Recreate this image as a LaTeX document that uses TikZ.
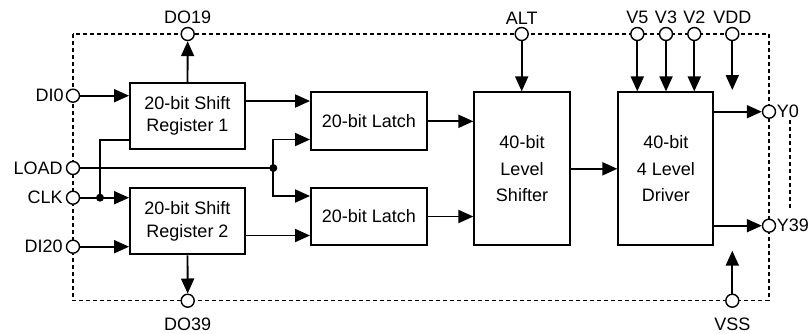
\documentclass[tikz,border=0pt]{standalone}
\usepackage{fontspec}
\setmainfont{Liberation Sans}
\usetikzlibrary{arrows.meta,calc}
\begin{document}
\begin{tikzpicture}[x=1pt,y=-1pt,
  box/.style={draw,line width=1.9pt,inner sep=0pt,align=center,font=\fontsize{18}{22.7}\selectfont},
  tall/.style={font=\fontsize{18}{26.7}\selectfont},
  pinc/.style={circle,draw,fill=white,line width=1.4pt,minimum size=13pt,inner sep=0pt},
  lbl/.style={inner sep=0pt,font=\fontsize{18}{21}\selectfont},
  conn/.style={line width=1.9pt},
  arr/.style={line width=1.9pt,-{Triangle[length=15pt,width=13pt]}},
  border/.style={line width=1.3pt,dash pattern=on 4pt off 3pt},
  dotc/.style={fill=black}]
\useasboundingbox (0,0) rectangle (812,333);
% dashed outline
\draw[border] (73,34) rectangle (769,300.7);
\draw[border] (790,120) -- (790,209);
% blocks
\node[box,minimum width=115pt,minimum height=66.3pt] (sr1) at (187.5,115.85) {20-bit Shift\\Register 1};
\node[box,minimum width=115pt,minimum height=66.6pt] (sr2) at (187.5,221) {20-bit Shift\\Register 2};
\node[box,minimum width=116pt,minimum height=58pt] (l1) at (369,121.3) {20-bit Latch};
\node[box,minimum width=116pt,minimum height=57.6pt] (l2) at (369,216.5) {20-bit Latch};
\node[box,tall,minimum width=95.4pt,minimum height=153pt] (ls) at (522,168.8) {40-bit\\Level\\Shifter};
\node[box,tall,minimum width=95pt,minimum height=152.7pt] (drv) at (665.8,168.7) {40-bit\\4 Level\\Driver};
% pins
\node[pinc] (di0) at (73,95.7) {};
\node[pinc] (load) at (73,168) {};
\node[pinc] (clk) at (73,197.7) {};
\node[pinc] (di20) at (73,246.7) {};
\node[pinc] (do19) at (187.7,34) {};
\node[pinc] (do39) at (187.7,300.7) {};
\node[pinc] (alt) at (521.7,34) {};
\node[pinc] (v5) at (637.3,34) {};
\node[pinc] (v3) at (666,34) {};
\node[pinc] (v2) at (694.3,34) {};
\node[pinc] (vdd) at (732.3,34) {};
\node[pinc] (y0) at (769,111.7) {};
\node[pinc] (y39) at (769,225.7) {};
\node[pinc] (vss) at (732.3,300.7) {};
% labels
\node[lbl,anchor=east] (tdi0) at ([xshift=-2pt]di0.west) {DI0};
\node[lbl,anchor=east] (tload) at ([xshift=-3pt]load.west) {LOAD};
\node[lbl,anchor=east] (tclk) at ([xshift=-3pt]clk.west) {CLK};
\node[lbl,anchor=east] (tdi20) at ([xshift=-3pt]di20.west) {DI20};
\node[lbl,anchor=south] (tdo19) at ([yshift=2.5pt]do19.north) {DO19};
\node[lbl,anchor=south] (talt) at ([yshift=2.5pt]alt.north) {ALT};
\node[lbl,anchor=south] (tv5) at ([yshift=3pt]v5.north) {V5};
\node[lbl,anchor=south] (tv3) at ([yshift=3pt]v3.north) {V3};
\node[lbl,anchor=south] (tv2) at ([yshift=3pt]v2.north) {V2};
\node[lbl,anchor=south] (tvdd) at ([yshift=3pt]vdd.north) {VDD};
\node[lbl,anchor=west] (ty0) at ([xshift=0.5pt]y0.east) {Y0};
\node[lbl,anchor=west] (ty39) at ([xshift=0.5pt]y39.east) {Y39};
\node[lbl,anchor=north] (tdo39) at ([yshift=-9.5pt]do39.south) {DO39};
\node[lbl,anchor=north] (tvss) at ([yshift=-9.5pt]vss.south) {VSS};
% helper coordinates
\coordinate (jc) at (100,197.7);
\coordinate (c1) at (100,140);
\coordinate (jl) at (273.3,168);
\coordinate (c2) at (273.3,139.5);
\coordinate (c3) at (273.3,196);
\coordinate (o1) at (245,101);
\coordinate (o2) at (245,235.5);
\coordinate (vddend) at (732.3,90);
\coordinate (vssend) at (732.3,250.7);
% connectors
\draw[arr] (di0) -- (di0 -| sr1.west);
\draw[arr] (di20) -- (di20 -| sr2.west);
\draw[arr] (clk) -- (clk -| sr2.west);
\draw[conn] (jc) -- (c1) -- (c1 -| sr1.west);
\draw[conn] (load) -- (jl);
\draw[arr] (jl) -- (c2) -- (c2 -| l1.west);
\draw[arr] (jl) -- (c3) -- (c3 -| l2.west);
\draw[arr] (sr1.north) -- (do19);
\draw[arr] (sr2.south) -- (do39);
\draw[arr] (sr1.east |- o1) -- (o1 -| l1.west);
\draw[arr] (sr2.east |- o2) -- (o2 -| l2.west);
\draw[arr] (l1.east) -- (l1.east -| ls.west);
\draw[arr] (l2.east) -- (l2.east -| ls.west);
\draw[arr] (ls.east) -- (ls.east -| drv.west);
\draw[arr] (alt) -- (alt |- ls.north);
\draw[arr] (v5) -- (v5 |- drv.north);
\draw[arr] (v3) -- (v3 |- drv.north);
\draw[arr] (v2) -- (v2 |- drv.north);
\draw[arr] (vdd) -- (vddend);
\draw[arr] (drv.east |- y0) -- (y0);
\draw[arr] (drv.east |- y39) -- (y39);
\draw[arr] (vss) -- (vssend);
\fill[dotc] (jc) circle (4pt);
\fill[dotc] (jl) circle (4pt);
\end{tikzpicture}
\end{document}
